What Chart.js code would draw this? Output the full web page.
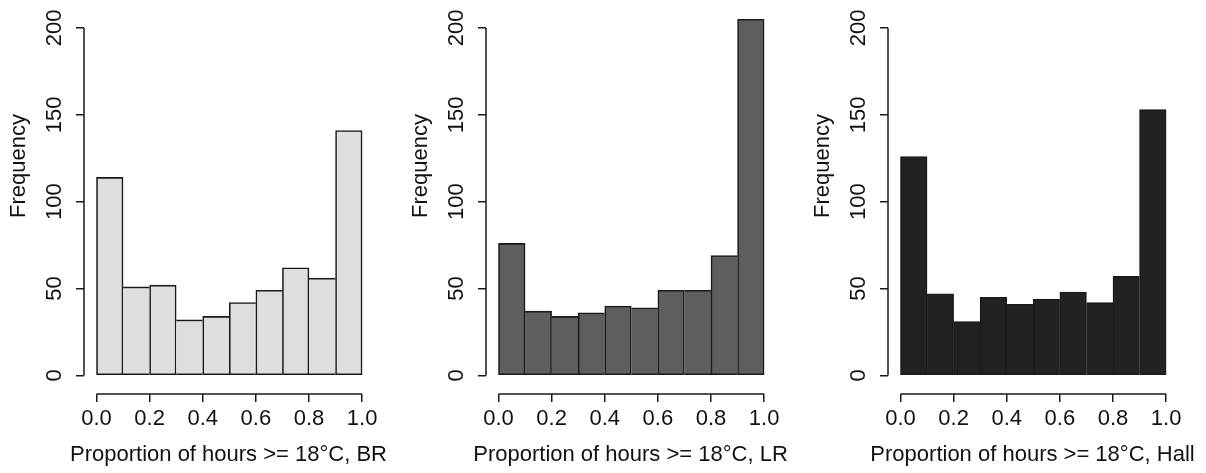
<!DOCTYPE html>
<html>
<head>
<meta charset="utf-8">
<script src="https://cdn.jsdelivr.net/npm/chart.js@4.4.0/dist/chart.umd.min.js"></script>
<style>
  html, body { margin: 0; padding: 0; background: #fff; }
  .row { display: flex; width: 1206px; height: 473px; }
  .row canvas { display: block; }
</style>
</head>
<body>
<div class="row">
  <canvas id="histBR" width="402" height="473"></canvas>
  <canvas id="histLR" width="402" height="473"></canvas>
  <canvas id="histHall" width="402" height="473"></canvas>
</div>
<script>
// ヒストグラムのデータ（ビンの境界と度数）
const binEdges = [0, 0.1, 0.2, 0.3, 0.4, 0.5, 0.6, 0.7, 0.8, 0.9, 1.0];
const countsBR = [114, 51, 52, 32, 34, 42, 49, 62, 56, 141];
const countsLR = [76, 37, 34, 36, 40, 39, 49, 49, 69, 205];
const countsHall = [126, 47, 31, 45, 41, 44, 48, 42, 57, 153];
const xTicks = [0, 0.2, 0.4, 0.6, 0.8, 1.0];
const yTicks = [0, 50, 100, 150, 200];
const xTitles = ['Proportion of hours >= 18°C, BR', 'Proportion of hours >= 18°C, LR', 'Proportion of hours >= 18°C, Hall'];
const yTitle = 'Frequency';

const FONT = '"Liberation Sans", Arial, sans-serif';
const FONT_SIZE = 22;
const INK = '#111';
const LINE = '#1a1a1a';
const BAR_LINE = 1.6;

// ビンの中心
const binCenters = binEdges.slice(0, -1).map((e, i) => (e + binEdges[i + 1]) / 2);

// Rっぽい軸線（0〜200, 0.0〜1.0 の範囲だけ）と軸タイトル
// Chart.jsの軸タイトルは幅で圧縮されるので、ここで描く
const rAxisLines = {
  id: 'rAxisLines',
  afterDraw(chart, args, opts) {
    const { ctx, chartArea, scales: { x, y } } = chart;
    ctx.save();
    ctx.strokeStyle = LINE;
    ctx.lineWidth = 1.5;
    ctx.beginPath();
    const left = Math.round(chartArea.left);
    ctx.moveTo(left, y.getPixelForValue(yTicks[yTicks.length - 1]));
    ctx.lineTo(left, y.getPixelForValue(yTicks[0]));
    const bottom = Math.round(chartArea.bottom);
    ctx.moveTo(x.getPixelForValue(xTicks[0]), bottom);
    ctx.lineTo(x.getPixelForValue(xTicks[xTicks.length - 1]), bottom);
    ctx.stroke();

    ctx.fillStyle = INK;
    ctx.font = FONT_SIZE + 'px ' + FONT;
    ctx.textAlign = 'center';
    ctx.textBaseline = 'middle';
    // 横軸タイトル
    ctx.fillText(opts.xTitle, (chartArea.left + chartArea.right) / 2, 455.4);
    // 縦軸タイトル
    ctx.translate(19, 166);
    ctx.rotate(-Math.PI / 2);
    ctx.fillText(yTitle, 0, 0);
    ctx.restore();
  }
};

function makeHist(id, counts, fill, title) {
  const last = counts.length - 1;
  // 隣り合うバーの境界線は高い方のバーだけが描く（線が二重にならないように）
  const sideBorders = ctx => {
    const i = ctx.dataIndex;
    return {
      top: BAR_LINE,
      bottom: BAR_LINE,
      left: (i === 0 || counts[i - 1] < counts[i]) ? BAR_LINE : 0,
      right: (i === last || counts[i + 1] <= counts[i]) ? BAR_LINE : 0
    };
  };
  return new Chart(document.getElementById(id), {
    type: 'bar',
    data: {
      datasets: [{
        data: binCenters.map((c, i) => ({ x: c, y: counts[i] })),
        backgroundColor: fill,
        borderColor: LINE,
        borderWidth: sideBorders,
        borderSkipped: false,
        barPercentage: 1,
        categoryPercentage: 1
      }]
    },
    options: {
      responsive: false,
      animation: false,
      layout: { padding: { left: 0, top: 0, right: 29, bottom: 0 } },
      plugins: {
        legend: { display: false },
        tooltip: { enabled: false },
        rAxisLines: { xTitle: title }
      },
      scales: {
        x: {
          type: 'linear',
          offset: false,
          min: -0.047,
          max: 1.041,
          afterBuildTicks: s => { s.ticks = xTicks.map(v => ({ value: v })); },
          afterFit: s => { s.height = 79; },
          grid: { offset: false, drawOnChartArea: false, drawTicks: true, tickLength: 8, color: LINE, lineWidth: 1.5 },
          border: { display: false },
          ticks: {
            autoSkip: false,
            maxRotation: 0,
            padding: 4,
            color: INK,
            font: { family: FONT, size: FONT_SIZE },
            callback: v => v.toFixed(1)
          }
        },
        y: {
          min: -10.65,
          max: 216.1,
          afterBuildTicks: s => { s.ticks = yTicks.map(v => ({ value: v })); },
          afterFit: s => { s.width = 84; s.paddingTop = 0; s.paddingBottom = 0; },
          grid: { drawOnChartArea: false, drawTicks: true, tickLength: 8, color: LINE, lineWidth: 1.5 },
          border: { display: false },
          ticks: {
            autoSkip: false,
            minRotation: 90,
            maxRotation: 90,
            crossAlign: 'center',
            padding: 3,
            color: INK,
            font: { family: FONT, size: FONT_SIZE }
          }
        }
      }
    },
    plugins: [rAxisLines]
  });
}

makeHist('histBR', countsBR, '#dedede', xTitles[0]);
makeHist('histLR', countsLR, '#5e5e5e', xTitles[1]);
makeHist('histHall', countsHall, '#222222', xTitles[2]);
</script>
</body>
</html>
